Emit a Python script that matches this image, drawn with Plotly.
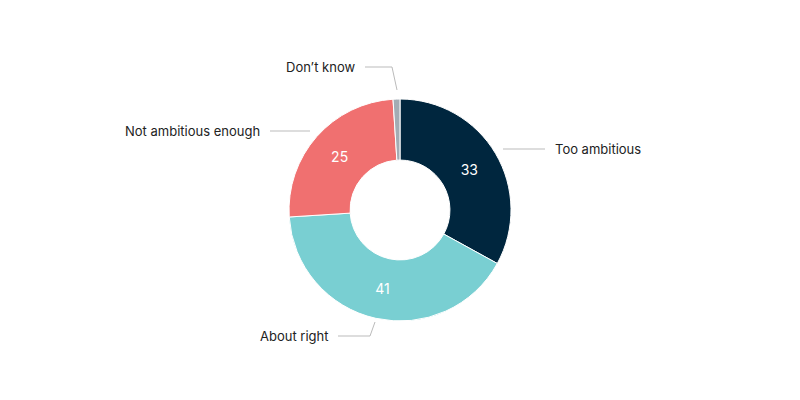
import plotly.graph_objects as go

labels = ["Too ambitious", "About right", "Not ambitious enough", "Don't know"]
values = [33, 41, 25, 1]
colors = ["#00263e", "#79cfd2", "#f07070", "#a3acb4"]
shown = ["33", "41", "25", ""]

# page body has an 8px margin, so offset everything placed in pixels
OFF = 8

fig = go.Figure()
fig.add_trace(go.Pie(labels=labels, values=values, text=shown, textinfo="text",
                     hole=0.45, sort=False, direction="clockwise", rotation=0,
                     marker=dict(colors=colors, line=dict(color="white", width=1)),
                     textfont=dict(color="white", size=14, family="Inter"),
                     insidetextorientation="horizontal",
                     domain=dict(x=[(289 - OFF)/800, (511 - OFF)/800],
                                 y=[(79 + OFF)/400, (301 + OFF)/400]),
                     hoverinfo="label+value", showlegend=False))


def px(x, y):
    return (x - OFF) / 800, 1 - (y - OFF) / 400


# outside labels with leader lines
label_pos = [(553, 149, "left"), (330, 336, "right"), (262, 131, "right"), (357, 67, "right")]
leaders = [[(503, 149), (545, 149)],
           [(338, 336), (370, 336), (375, 322)],
           [(270, 131), (310, 131)],
           [(365, 67), (392, 67), (397, 90)]]
for name, (x, y, anchor) in zip(labels, label_pos):
    ax, ay = px(x, y)
    fig.add_annotation(x=ax, y=ay, xref="paper", yref="paper", text=name.replace("'", "’"),
                       showarrow=False, xanchor=anchor, yanchor="middle",
                       font=dict(size=13, color="#222", family="Inter"))
for pts in leaders:
    path = "M " + " L ".join("{},{}".format(*px(*p)) for p in pts)
    fig.add_shape(type="path", path=path, xref="paper", yref="paper",
                  line=dict(color="#bbbbbb", width=1))

fig.update_layout(width=800, height=400, margin=dict(l=0, r=0, t=0, b=0),
                  paper_bgcolor="white", plot_bgcolor="white")
fig.write_html("out.html")
